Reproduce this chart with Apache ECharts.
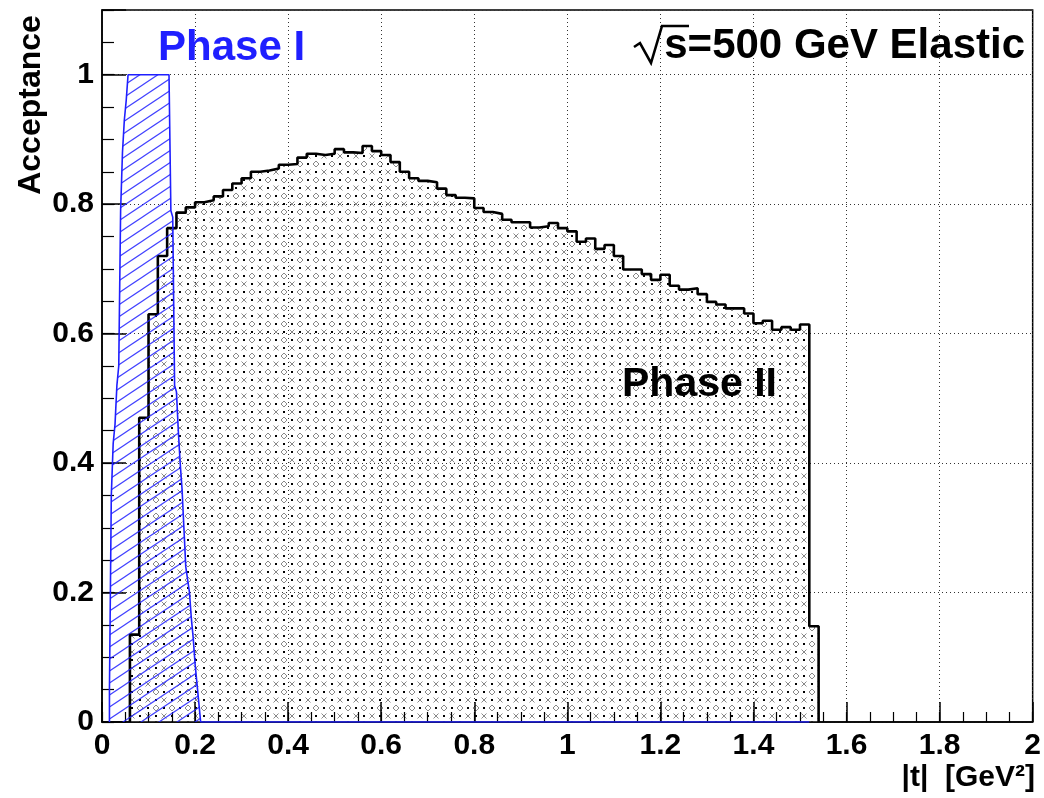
<!DOCTYPE html>
<html>
<head>
<meta charset="utf-8">
<script src="https://cdn.jsdelivr.net/npm/echarts@6/dist/echarts.min.js"></script>
<style>
html,body{margin:0;padding:0;background:#fff;}
#chart{width:1044px;height:798px;}
</style>
</head>
<body>
<div id="chart"></div>
<script>
// ---------- DATA ----------
// Phase II acceptance: histogram, bin width 0.02, first bin starts at |t| = 0.06
const phaseIIStart = 0.06;
const phaseIIBin = 0.02;
const phaseIIValues = [
  0.135, 0.47, 0.63, 0.72, 0.763, 0.787, 0.795, 0.803, 0.806, 0.812,
  0.822, 0.832, 0.840, 0.850, 0.852, 0.855, 0.861, 0.862, 0.872, 0.878,
  0.876, 0.878, 0.885, 0.880, 0.879, 0.890, 0.882, 0.876, 0.865, 0.850,
  0.840, 0.836, 0.834, 0.824, 0.814, 0.810, 0.809, 0.794, 0.788, 0.785,
  0.776, 0.772, 0.772, 0.764, 0.766, 0.771, 0.763, 0.758, 0.742, 0.747,
  0.731, 0.737, 0.720, 0.699, 0.699, 0.692, 0.683, 0.691, 0.674, 0.668,
  0.670, 0.661, 0.649, 0.645, 0.639, 0.639, 0.631, 0.616, 0.620, 0.606,
  0.610, 0.606, 0.614, 0.148
];
// Phase I acceptance: histogram, bin width 0.004, first bin starts at |t| = 0.016
const phaseIStart = 0.016;
const phaseIBin = 0.004;
const phaseIValues = [
  0.05, 0.35, 0.43, 0.46, 0.52, 0.55, 0.79, 0.88, 0.93, 0.96,
  1.0, 1.0, 1.0, 1.0, 1.0, 1.0, 1.0, 1.0, 1.0, 1.0,
  1.0, 1.0, 1.0, 1.0, 1.0, 1.0, 1.0, 1.0, 1.0, 1.0,
  1.0, 1.0, 1.0, 0.79, 0.78, 0.52, 0.51, 0.45, 0.40, 0.36,
  0.30, 0.24, 0.22, 0.20, 0.16, 0.13, 0.09, 0.06, 0.03
];
const phaseIRangeEnd = 1.52; // Phase I histogram outline runs along zero up to here
const xTicks = [0, 0.2, 0.4, 0.6, 0.8, 1, 1.2, 1.4, 1.6, 1.8, 2];
const yTicks = [0, 0.2, 0.4, 0.6, 0.8, 1];

// ---------- build step points ----------
function histPoints(start, bin, vals) {
  const pts = [[start, 0]];
  vals.forEach((v, i) => pts.push([+(start + i * bin).toFixed(4), v]));
  pts.push([+(start + vals.length * bin).toFixed(4), 0]);
  return pts;
}
const p2 = histPoints(phaseIIStart, phaseIIBin, phaseIIValues);
const p1 = histPoints(phaseIStart, phaseIBin, phaseIValues);
p1.push([phaseIRangeEnd, 0]);

// ---------- patterns ----------
function dotPattern() {
  const c = document.createElement('canvas'); c.width = 16; c.height = 16;
  const g = c.getContext('2d');
  g.fillStyle = '#ffffff'; g.fillRect(0, 0, 16, 16);
  g.fillStyle = '#000'; g.fillRect(3, 3, 2, 2); g.fillRect(11, 11, 2, 2);
  g.strokeStyle = '#888'; g.lineWidth = 1;
  g.beginPath(); g.moveTo(12, 1); g.lineTo(15, 4); g.lineTo(12, 7); g.lineTo(9, 4); g.closePath(); g.stroke();
  g.beginPath(); g.moveTo(1.5, 9.5); g.lineTo(6.5, 14.5); g.moveTo(6.5, 9.5); g.lineTo(1.5, 14.5); g.stroke();
  return c;
}
function hatchPattern() {
  const w = 18, h = 12;
  const c = document.createElement('canvas'); c.width = w; c.height = h;
  const g = c.getContext('2d');
  g.strokeStyle = 'rgba(30,30,255,0.85)'; g.lineWidth = 1.2;
  [-h, 0, h].forEach(off => {
    g.beginPath();
    g.moveTo(-2, h + off + 2 * h / w); g.lineTo(w + 2, off - 2 * h / w);
    g.stroke();
  });
  return c;
}

const chart = echarts.init(document.getElementById('chart'), null, {renderer: 'canvas'});
const FONT = 'Liberation Sans, Arial, sans-serif';
const labelStyle = {fontFamily: FONT, fontWeight: 'bold', fontSize: 30, color: '#000'};

function fmt(v) { return Math.abs(v / 0.2 - Math.round(v / 0.2)) < 1e-6 ? String(+v.toFixed(1)) : ''; }

const option = {
  animation: false,
  backgroundColor: '#fff',
  grid: {left: 102, right: 9, top: 10, bottom: 76, show: true, borderColor: '#000', borderWidth: 1.5, backgroundColor: 'transparent'},
  xAxis: [{
    type: 'value', min: xTicks[0], max: xTicks[xTicks.length - 1], interval: 0.2,
    axisLine: {show: true, lineStyle: {color: '#000', width: 1.5}},
    axisTick: {show: true, inside: true, length: 20, lineStyle: {color: '#000', width: 1.5}},
    axisLabel: Object.assign({margin: 9, formatter: fmt}, labelStyle),
    splitLine: {show: true, lineStyle: {color: '#333', width: 1, type: [1, 3]}},
    z: 5
  }, {
    type: 'value', min: 0, max: 2, interval: 0.05, position: 'bottom',
    axisLine: {show: false}, axisLabel: {show: false}, splitLine: {show: false},
    axisTick: {show: true, inside: true, length: 10, lineStyle: {color: '#000', width: 1.2}}, z: 5
  }],
  yAxis: [{
    type: 'value', min: 0, max: 1.1, interval: 0.2,
    axisLine: {show: true, lineStyle: {color: '#000', width: 1.5}},
    axisTick: {show: true, inside: true, length: 24, lineStyle: {color: '#000', width: 1.5}},
    axisLabel: Object.assign({margin: 8, formatter: fmt}, labelStyle),
    splitLine: {show: true, lineStyle: {color: '#333', width: 1, type: [1, 3]}},
    z: 5
  }, {
    type: 'value', min: 0, max: 1.1, interval: 0.05, position: 'left',
    axisLine: {show: false}, axisLabel: {show: false}, splitLine: {show: false},
    axisTick: {show: true, inside: true, length: 12, lineStyle: {color: '#000', width: 1.2}}, z: 5
  }],
  series: [
    {
      name: 'Phase II fill', type: 'line', step: 'end', data: p2, symbol: 'none',
      lineStyle: {width: 0},
      areaStyle: {color: {image: dotPattern(), repeat: 'repeat'}, opacity: 1},
      z: 2
    },
    {
      name: 'Phase II', type: 'line', step: 'end', data: p2, symbol: 'none',
      lineStyle: {color: '#000', width: 2.6},
      z: 6
    },
    {
      name: 'Phase I', type: 'line', step: 'end', data: p1, symbol: 'none',
      lineStyle: {color: '#1f1fff', width: 1.6},
      areaStyle: {color: {image: hatchPattern(), repeat: 'repeat'}, opacity: 1},
      z: 7
    }
  ],
  graphic: [
    {type: 'text', x: 31, y: 105, rotation: Math.PI / 2, z: 100,
     style: {text: 'Acceptance', font: 'bold 32px ' + FONT, fill: '#000', align: 'center', verticalAlign: 'middle'}},
    {type: 'text', x: 1035, y: 778, z: 100,
     style: {text: '|t|  [GeV²]', font: 'bold 30px ' + FONT, fill: '#000', align: 'right', verticalAlign: 'middle'}},
    {type: 'text', x: 158, y: 48, z: 100,
     style: {text: 'Phase I', font: 'bold 42px ' + FONT, fill: '#1f1fff', align: 'left', verticalAlign: 'middle'}},
    {type: 'text', x: 622, y: 385, z: 100,
     style: {text: 'Phase II', font: 'bold 41px ' + FONT, fill: '#000', align: 'left', verticalAlign: 'middle'}},
    {type: 'text', x: 1025, y: 46, z: 100,
     style: {text: 's=500 GeV Elastic', font: 'bold 42px ' + FONT, fill: '#000', align: 'right', verticalAlign: 'middle'}},
    {type: 'polyline', z: 100,
     shape: {points: [[634, 47], [640, 43], [651, 63], [662, 26], [689, 26]]},
     style: {stroke: '#000', lineWidth: 2.6, fill: null}}
  ]
};
chart.setOption(option);
</script>
</body>
</html>
